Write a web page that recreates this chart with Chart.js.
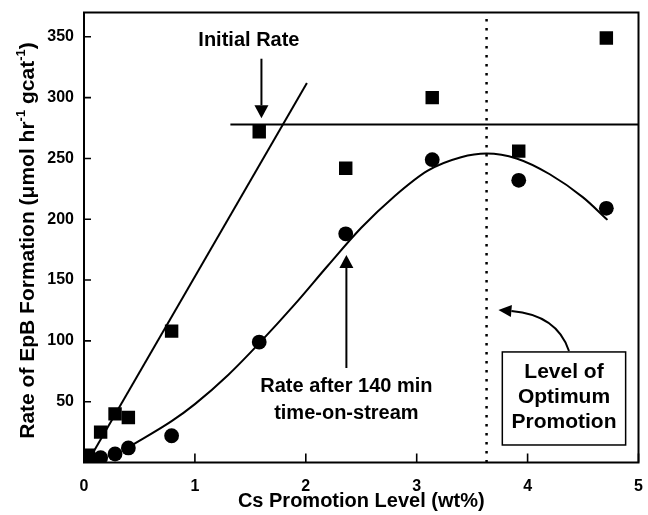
<!DOCTYPE html>
<html>
<head>
<meta charset="utf-8">
<script src="https://cdn.jsdelivr.net/npm/chart.js@4/dist/chart.umd.min.js"></script>
<style>
  html, body { margin: 0; padding: 0; background: #fff; }
  #wrap { width: 648px; height: 515px; }
</style>
</head>
<body>
<div id="wrap"><canvas id="c" width="648" height="515"></canvas></div>
<script>
// Axis ticks
const xTicks = [0, 1, 2, 3, 4, 5];
const yTicks = [50, 100, 150, 200, 250, 300, 350];

// Measured EpB formation rates vs Cs loading (wt%)
const csLevel = [0.04, 0.15, 0.28, 0.40, 0.79, 1.58, 2.36, 3.14, 3.92, 4.71];
const initialRate = [6, 25, 40, 37, 108, 272, 242, 300, 256, 349];
const rate140 = [2, 4, 7, 12, 22, 99, 188, 249, 232, 209];

// Trend lines
const initFitX = [0.03, 2.01];
const initFitY = [0, 312];
const plateauX = [1.32, 5];
const plateauY = [278, 278];
const curveX = [0.41, 0.79, 1.0, 1.3, 1.59, 1.9, 2.2, 2.5, 2.8, 3.1, 3.4, 3.63, 3.9, 4.2, 4.5, 4.72];
const curveY = [13, 34, 48, 72, 99, 130, 162, 193, 219, 240, 251, 254, 250, 237, 218, 199.5];
const optimumX = 3.63;

const pts = (xs, ys) => xs.map((v, i) => ({ x: v, y: ys[i] }));
const FONT = '"Liberation Sans", Arial, Helvetica, sans-serif';
const INK = '#000';

function arrow(ctx, x1, y1, x2, y2, len, half) {
  const ang = Math.atan2(y2 - y1, x2 - x1);
  const bx = x2 - len * Math.cos(ang), by = y2 - len * Math.sin(ang);
  ctx.beginPath();
  ctx.moveTo(x1, y1);
  ctx.lineTo(bx, by);
  ctx.stroke();
  ctx.beginPath();
  ctx.moveTo(x2, y2);
  ctx.lineTo(bx + half * Math.sin(ang), by - half * Math.cos(ang));
  ctx.lineTo(bx - half * Math.sin(ang), by + half * Math.cos(ang));
  ctx.closePath();
  ctx.fill();
}

// keep the plot box fixed regardless of edge label overhang
function noEdgePadding(s) {
  s.paddingLeft = 0; s.paddingRight = 0; s.paddingTop = 0; s.paddingBottom = 0;
}

const decorations = {
  id: 'decorations',
  afterDatasetsDraw(chart) {
    const { ctx, chartArea: a, scales: { x, y } } = chart;
    const px = v => x.getPixelForValue(v);
    const py = v => y.getPixelForValue(v);
    ctx.save();
    ctx.strokeStyle = INK;
    ctx.fillStyle = INK;

    // plot frame
    ctx.lineWidth = 2;
    ctx.strokeRect(a.left, a.top, a.right - a.left, a.bottom - a.top);

    // inward tick marks
    ctx.lineWidth = 1.6;
    ctx.beginPath();
    xTicks.forEach(v => { const p = px(v); ctx.moveTo(p, a.bottom); ctx.lineTo(p, a.bottom - 9); });
    yTicks.forEach(v => { const p = py(v); ctx.moveTo(a.left, p); ctx.lineTo(a.left + 7, p); });
    ctx.stroke();

    // x tick labels (drawn here so the end labels do not shrink the plot box)
    ctx.font = 'bold 16px ' + FONT;
    ctx.textAlign = 'center';
    ctx.textBaseline = 'middle';
    xTicks.forEach(v => ctx.fillText(String(v), px(v), a.bottom + 24));

    // arrows
    ctx.lineWidth = 2;
    arrow(ctx, px(1.60), py(332), px(1.60), py(283), 13, 7);
    arrow(ctx, px(2.366), py(77.7), px(2.366), py(170.6), 13, 7);

    // curved arrow from the box towards the optimum line
    const s = [px(4.373), py(91.7)], c = [px(4.265), py(121.3)], e = [px(3.737), py(125.4)];
    const ang = Math.atan2(e[1] - c[1], e[0] - c[0]);
    const hl = 13;
    const eb = [e[0] - hl * Math.cos(ang), e[1] - hl * Math.sin(ang)];
    ctx.beginPath();
    ctx.moveTo(s[0], s[1]);
    ctx.quadraticCurveTo(c[0], c[1], eb[0], eb[1]);
    ctx.stroke();
    ctx.beginPath();
    ctx.moveTo(e[0], e[1]);
    ctx.lineTo(eb[0] + 6 * Math.sin(ang), eb[1] - 6 * Math.cos(ang));
    ctx.lineTo(eb[0] - 6 * Math.sin(ang), eb[1] + 6 * Math.cos(ang));
    ctx.closePath();
    ctx.fill();

    // label box
    ctx.lineWidth = 1.5;
    const bl = px(3.772), br = px(4.884), bt = py(90.9), bb = py(14.4);
    ctx.fillStyle = '#fff';
    ctx.fillRect(bl, bt, br - bl, bb - bt);
    ctx.strokeRect(bl, bt, br - bl, bb - bt);
    ctx.fillStyle = INK;

    // annotation text
    ctx.textAlign = 'center';
    ctx.textBaseline = 'middle';
    ctx.font = 'bold 20px ' + FONT;
    ctx.fillText('Initial Rate', px(1.487), py(347.4));
    ctx.fillText('Rate after 140 min', px(2.366), py(62.9));
    ctx.fillText('time-on-stream', px(2.366), py(39.9));
    ctx.font = 'bold 21px ' + FONT;
    const bx = (bl + br) / 2;
    ctx.fillText('Level of', bx, py(74.4));
    ctx.fillText('Optimum', bx, py(53.9));
    ctx.fillText('Promotion', bx, py(33.3));

    // x axis title
    ctx.font = 'bold 20px ' + FONT;
    ctx.fillText('Cs Promotion Level (wt%)', (a.left + a.right) / 2, 501);

    // y axis title with superscripts
    const parts = [
      { t: 'Rate of EpB Formation (\u03bcmol hr', sup: false },
      { t: '-1', sup: true },
      { t: ' gcat', sup: false },
      { t: '-1', sup: true },
      { t: ')', sup: false }
    ];
    const mainF = 'bold 21px ' + FONT, supF = 'bold 13px ' + FONT;
    let total = 0;
    parts.forEach(p => { ctx.font = p.sup ? supF : mainF; p.w = ctx.measureText(p.t).width; total += p.w; });
    ctx.translate(34, (a.top + a.bottom) / 2 + 3);
    ctx.rotate(-Math.PI / 2);
    ctx.textAlign = 'left';
    ctx.textBaseline = 'alphabetic';
    let cx = -total / 2;
    parts.forEach(p => {
      ctx.font = p.sup ? supF : mainF;
      ctx.fillText(p.t, cx, p.sup ? -9 : 0);
      cx += p.w;
    });
    ctx.restore();
  }
};

new Chart(document.getElementById('c'), {
  type: 'scatter',
  data: {
    datasets: [
      {
        label: 'Initial rate',
        data: pts(csLevel, initialRate),
        pointStyle: 'rect', pointRadius: 9.5, pointHoverRadius: 9.5,
        backgroundColor: INK, borderColor: INK, borderWidth: 0,
        showLine: false, order: 1
      },
      {
        label: 'Rate after 140 min',
        data: pts(csLevel, rate140),
        pointStyle: 'circle', pointRadius: 7.4, pointHoverRadius: 7.4,
        backgroundColor: INK, borderColor: INK, borderWidth: 0,
        showLine: false, order: 2
      },
      {
        label: 'Initial rate fit',
        data: pts(initFitX, initFitY),
        showLine: true, pointRadius: 0, borderColor: INK, borderWidth: 2, order: 3
      },
      {
        label: 'Initial rate plateau',
        data: pts(plateauX, plateauY),
        showLine: true, pointRadius: 0, borderColor: INK, borderWidth: 2, order: 3
      },
      {
        label: 'Rate after 140 min fit',
        data: pts(curveX, curveY),
        showLine: true, pointRadius: 0, borderColor: INK, borderWidth: 2,
        cubicInterpolationMode: 'monotone', order: 3
      },
      {
        label: 'Optimum promotion',
        data: [{ x: optimumX, y: 0 }, { x: optimumX, y: 370 }],
        showLine: true, pointRadius: 0, borderColor: INK, borderWidth: 2.5,
        borderDash: [2.5, 6.5], order: 4
      }
    ]
  },
  options: {
    responsive: false,
    animation: false,
    devicePixelRatio: 1,
    layout: { padding: { left: 0, top: 12.5, right: 4, bottom: 0 } },
    plugins: { legend: { display: false }, tooltip: { enabled: false } },
    scales: {
      x: {
        type: 'linear', min: 0, max: 5,
        afterBuildTicks: s => { s.ticks = xTicks.map(v => ({ value: v })); },
        afterFit: s => { s.height = 52.5; noEdgePadding(s); },
        grid: { display: false, drawTicks: false },
        border: { display: false },
        ticks: { display: false }
      },
      y: {
        type: 'linear', min: 0, max: 370,
        afterBuildTicks: s => { s.ticks = yTicks.map(v => ({ value: v })); },
        afterFit: s => { s.width = 84; noEdgePadding(s); },
        grid: { display: false, drawTicks: false },
        border: { display: false },
        ticks: { color: INK, padding: 10, font: { family: FONT, size: 16, weight: 'bold' } }
      }
    }
  },
  plugins: [decorations]
});
</script>
</body>
</html>
